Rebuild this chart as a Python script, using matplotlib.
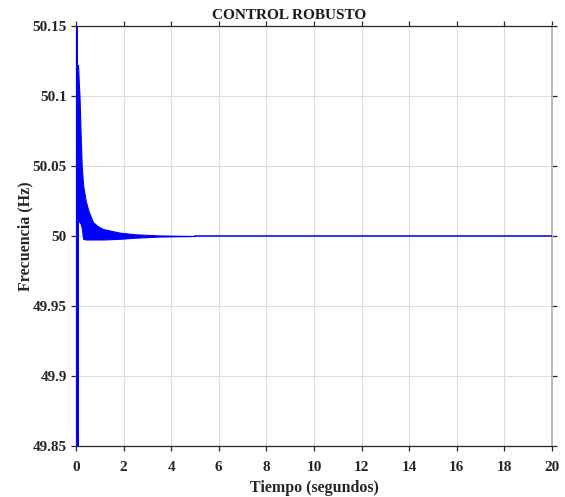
import matplotlib
matplotlib.use("Agg")
import matplotlib.pyplot as plt
from matplotlib.ticker import FixedLocator, FixedFormatter

plt.rcParams['font.family'] = ['Liberation Serif', 'DejaVu Serif']
plt.rcParams['font.weight'] = 'bold'

# Initial transient of the frequency (s, Hz)
t_spike = [0.0, 0.01, 0.045, 0.08, 0.10]
f_spike = [50.0, 49.75, 50.25, 49.75, 50.12]

# Envelope of the fast oscillation that follows (s, Hz)
t_env = [0.08, 0.11, 0.147, 0.19, 0.24, 0.30, 0.41, 0.52, 0.71, 0.90, 1.13, 1.84,
         2.50, 3.50, 5.00]
f_upper = [50.122, 50.112, 50.100, 50.075, 50.050, 50.036, 50.025, 50.018, 50.010,
           50.0072, 50.005, 50.0024, 50.0012, 50.0004, 50.0]
f_lower = [50.012, 50.011, 50.010, 50.009, 50.006, 49.998, 49.9975, 49.9975, 49.9975,
           49.9975, 49.9975, 49.998, 49.9988, 49.9996, 50.0]

# Steady state
t_ss = [5.0, 20.0]
f_ss = [50.0, 50.0]

x_ticks = [0, 2, 4, 6, 8, 10, 12, 14, 16, 18, 20]
y_ticks = [49.85, 49.9, 49.95, 50.0, 50.05, 50.1, 50.15]
y_tick_labels = ['49.85', '49.9', '49.95', '50', '50.05', '50.1', '50.15']

fig = plt.figure(figsize=(5.65, 4.97), dpi=100)
ax = fig.add_axes([0.1345, 0.1026, 0.8425, 0.8451])

blue = (0, 0, 1)
ax.fill_between(t_env, f_lower, f_upper, color=blue, lw=0.8, zorder=3)
ax.plot(t_spike, f_spike, color=blue, lw=1.1, zorder=3)
ax.plot(t_ss, f_ss, color=blue, lw=1.1, zorder=3)

ax.set_xlim(0, 20)
ax.set_ylim(49.85, 50.15)
ax.xaxis.set_major_locator(FixedLocator(x_ticks))
ax.yaxis.set_major_locator(FixedLocator(y_ticks))
ax.yaxis.set_major_formatter(FixedFormatter(y_tick_labels))

ax.grid(True, color='#dcdcdc', lw=0.8)
ax.set_axisbelow(True)
ax.tick_params(direction='out', length=3.6, width=0.9, top=True, right=True,
               labelsize=11, colors='#262626')
ax.tick_params(axis='x', pad=7.5)
ax.tick_params(axis='y', pad=3)
for lbl in ax.get_xticklabels() + ax.get_yticklabels():
    lbl.set_fontweight('bold')

for side in ['left', 'top', 'bottom']:
    ax.spines[side].set_color('#262626')
    ax.spines[side].set_linewidth(0.9)
ax.spines['right'].set_color('#b8b8b8')
ax.spines['right'].set_linewidth(1.4)

ax.set_title('CONTROL ROBUSTO', fontsize=11, fontweight='bold', pad=5,
             color='#1a1a1a', x=0.4485)
ax.set_xlabel('Tiempo (segundos)', fontsize=11.5, fontweight='bold', color='#262626', labelpad=4)
ax.set_ylabel('Frecuencia (Hz)', fontsize=11.5, fontweight='bold', color='#262626', labelpad=-0.5)

fig.savefig('out.png', dpi=100)
